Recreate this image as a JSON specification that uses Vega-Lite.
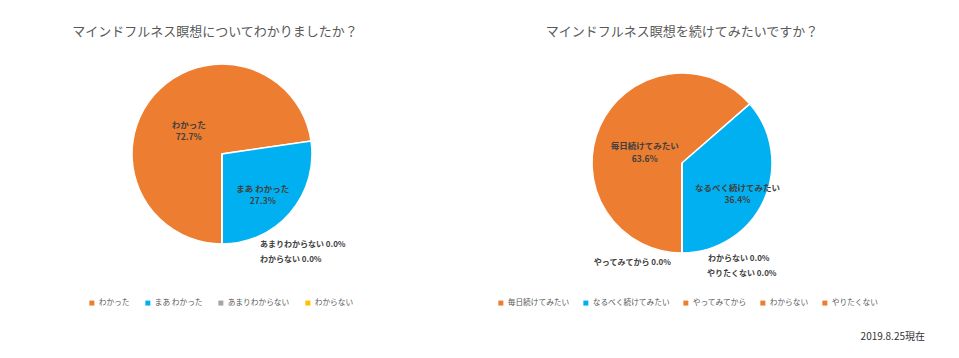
{
  "$schema": "https://vega.github.io/schema/vega-lite/v6.json",
  "background": "white",
  "padding": {"left": 2, "top": 26, "right": 0, "bottom": 0},
  "spacing": 20,
  "config": {
    "font": "Noto Sans CJK JP",
    "view": {"stroke": null},
    "title": {"fontSize": 13, "fontWeight": "normal", "color": "#595959", "baseline": "alphabetic", "offset": 15},
    "legend": {"labelFont": "Noto Sans CJK JP", "labelFontSize": 7.7, "labelColor": "#595959", "symbolType": "square", "symbolSize": 25, "symbolStrokeWidth": 0, "labelOffset": 3, "columnPadding": 12, "padding": 0}
  },
  "datasets": {
    "q1": [
      {"idx": 1, "category": "わかった", "pct": 0.727},
      {"idx": 2, "category": "まあ わかった", "pct": 0.273},
      {"idx": 3, "category": "あまりわからない", "pct": 0},
      {"idx": 4, "category": "わからない", "pct": 0}
    ],
    "q2": [
      {"idx": 1, "category": "毎日続けてみたい", "pct": 0.636},
      {"idx": 2, "category": "なるべく続けてみたい", "pct": 0.364},
      {"idx": 3, "category": "やってみてから", "pct": 0},
      {"idx": 4, "category": "わからない", "pct": 0},
      {"idx": 5, "category": "やりたくない", "pct": 0}
    ]
  },
  "title": {"text": "2019.8.25現在", "orient": "bottom", "anchor": "end", "fontSize": 10, "color": "#333333", "offset": 25, "dx": 23, "baseline": "top"},
  "resolve": {"scale": {"color": "independent", "theta": "independent"}, "legend": {"color": "independent"}},
  "hconcat": [
    {
      "width": 440,
      "height": 200,
      "data": {"name": "q1"},
      "title": {"text": "マインドフルネス瞑想についてわかりましたか？", "dx": -7},
      "transform": [
        {"calculate": "datum.category + '\\n' + format(datum.pct, '.1%')", "as": "inner"},
        {"calculate": "datum.category + ' ' + format(datum.pct, '.1%')", "as": "outer"}
      ],
      "encoding": {
        "theta": {"field": "pct", "type": "quantitative", "stack": true, "scale": {"range": [3.141592653589793, 9.42477796076938]}},
        "order": {"field": "idx", "type": "quantitative"}
      },
      "layer": [
        {
          "mark": {"type": "arc", "outerRadius": 90, "stroke": "white", "strokeWidth": 1.5},
          "encoding": {
            "color": {
              "field": "category", "type": "nominal",
              "scale": {"domain": ["わかった", "まあ わかった", "あまりわからない", "わからない"], "range": ["#ED7D31", "#00B0F0", "#A5A5A5", "#FFC000"]},
              "legend": {"orient": "none", "legendX": 86, "legendY": 245, "direction": "horizontal", "title": null, "columnPadding": 14}
            }
          }
        },
        {
          "mark": {"type": "text", "radius": 44, "lineBreak": "\n", "lineHeight": 12, "fontSize": 8.5, "fontWeight": "bold", "color": "#404040", "align": "center", "baseline": "middle"},
          "encoding": {
            "detail": {"field": "category"},
            "text": {"condition": {"test": "datum.category === 'わかった'", "field": "inner"}, "value": ""}
          }
        },
        {
          "mark": {"type": "text", "radius": 54, "lineBreak": "\n", "lineHeight": 12, "fontSize": 8.5, "fontWeight": "bold", "color": "#404040", "align": "center", "baseline": "middle"},
          "encoding": {
            "detail": {"field": "category"},
            "text": {"condition": {"test": "datum.category === 'まあ わかった'", "field": "inner"}, "value": ""}
          }
        },
        {
          "mark": {"type": "text", "radius": 90, "dx": 38, "dy": 1, "fontSize": 8, "fontWeight": "bold", "color": "#404040", "align": "left", "baseline": "middle"},
          "encoding": {
            "detail": {"field": "category"},
            "text": {"condition": {"test": "datum.category === 'あまりわからない'", "field": "outer"}, "value": ""}
          }
        },
        {
          "mark": {"type": "text", "radius": 90, "dx": 38, "dy": 16, "fontSize": 8, "fontWeight": "bold", "color": "#404040", "align": "left", "baseline": "middle"},
          "encoding": {
            "detail": {"field": "category"},
            "text": {"condition": {"test": "datum.category === 'わからない'", "field": "outer"}, "value": ""}
          }
        }
      ]
    },
    {
      "width": 440,
      "height": 218,
      "data": {"name": "q2"},
      "title": {"text": "マインドフルネス瞑想を続けてみたいですか？"},
      "transform": [
        {"calculate": "datum.category + '\\n' + format(datum.pct, '.1%')", "as": "inner"},
        {"calculate": "datum.category + ' ' + format(datum.pct, '.1%')", "as": "outer"}
      ],
      "encoding": {
        "theta": {"field": "pct", "type": "quantitative", "stack": true, "scale": {"range": [3.141592653589793, 9.42477796076938]}},
        "order": {"field": "idx", "type": "quantitative"}
      },
      "layer": [
        {
          "mark": {"type": "arc", "outerRadius": 90, "stroke": "white", "strokeWidth": 1.5},
          "encoding": {
            "color": {
              "field": "category", "type": "nominal",
              "scale": {"domain": ["毎日続けてみたい", "なるべく続けてみたい", "やってみてから", "わからない", "やりたくない"], "range": ["#ED7D31", "#00B0F0", "#ED7D31", "#ED7D31", "#ED7D31"]},
              "legend": {"orient": "none", "legendX": 35, "legendY": 245, "direction": "horizontal", "title": null}
            }
          }
        },
        {
          "mark": {"type": "text", "radius": 41, "lineBreak": "\n", "lineHeight": 13, "fontSize": 8.5, "fontWeight": "bold", "color": "#404040", "align": "center", "baseline": "middle"},
          "encoding": {
            "detail": {"field": "category"},
            "text": {"condition": {"test": "datum.category === '毎日続けてみたい'", "field": "inner"}, "value": ""}
          }
        },
        {
          "mark": {"type": "text", "radius": 61, "lineBreak": "\n", "lineHeight": 12, "fontSize": 8.5, "fontWeight": "bold", "color": "#404040", "align": "center", "baseline": "middle"},
          "encoding": {
            "detail": {"field": "category"},
            "text": {"condition": {"test": "datum.category === 'なるべく続けてみたい'", "field": "inner"}, "value": ""}
          }
        },
        {
          "mark": {"type": "text", "radius": 90, "dx": -11, "dy": 10, "fontSize": 8, "fontWeight": "bold", "color": "#404040", "align": "right", "baseline": "middle"},
          "encoding": {
            "detail": {"field": "category"},
            "text": {"condition": {"test": "datum.category === 'やってみてから'", "field": "outer"}, "value": ""}
          }
        },
        {
          "mark": {"type": "text", "radius": 90, "dx": 26, "dy": 6, "fontSize": 8, "fontWeight": "bold", "color": "#404040", "align": "left", "baseline": "middle"},
          "encoding": {
            "detail": {"field": "category"},
            "text": {"condition": {"test": "datum.category === 'わからない'", "field": "outer"}, "value": ""}
          }
        },
        {
          "mark": {"type": "text", "radius": 90, "dx": 25, "dy": 21, "fontSize": 8, "fontWeight": "bold", "color": "#404040", "align": "left", "baseline": "middle"},
          "encoding": {
            "detail": {"field": "category"},
            "text": {"condition": {"test": "datum.category === 'やりたくない'", "field": "outer"}, "value": ""}
          }
        }
      ]
    }
  ]
}
